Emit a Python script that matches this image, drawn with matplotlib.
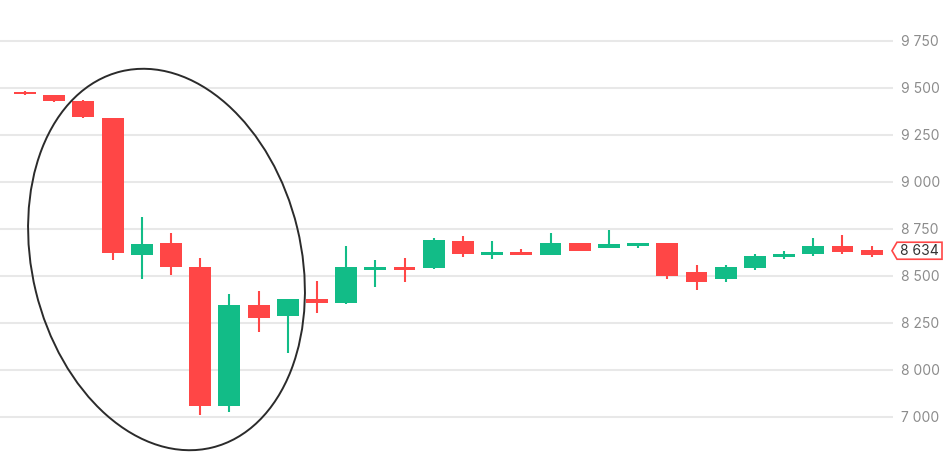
import matplotlib
matplotlib.use("Agg")
import matplotlib.pyplot as plt
from matplotlib.patches import Ellipse, Polygon
from matplotlib.transforms import IdentityTransform
import numpy as np

# OHLC values
opens  = [9480, 9463, 9432, 9339, 8610, 8676, 8548, 7810, 8344, 8285,
          8377, 8355, 8532, 8548, 8541, 8684, 8610, 8626, 8610, 8676,
          8649, 8661, 8676, 8523, 8482, 8542, 8601, 8617, 8659, 8638]
closes = [9470, 9432, 9347, 8620, 8668, 8550, 7810, 8344, 8278, 8377,
          8356, 8548, 8548, 8532, 8693, 8618, 8626, 8610, 8676, 8635,
          8668, 8674, 8498, 8466, 8548, 8608, 8617, 8659, 8626, 8612]
highs  = [9482, 9465, 9435, 9340, 8812, 8727, 8598, 8403, 8422, 8378,
          8473, 8659, 8583, 8598, 8702, 8711, 8684, 8642, 8727, 8677,
          8744, 8675, 8677, 8558, 8558, 8618, 8635, 8702, 8718, 8659]
lows   = [9463, 9424, 9340, 8585, 8482, 8507, 7760, 7776, 8200, 8090,
          8301, 8353, 8440, 8466, 8538, 8601, 8592, 8610, 8609, 8634,
          8647, 8650, 8482, 8424, 8466, 8532, 8590, 8608, 8618, 8603]

tick_values = [9750, 9500, 9250, 9000, 8750, 8500, 8250, 8000, 7750]
tick_labels = ["9 750", "9 500", "9 250", "9 000", "8 750", "8 500", "8 250", "8 000", "7 000"]
last_price = 8634
last_label = "8 634"

RED = "#ff4646"
GREEN = "#12bc87"

W, H = 945, 462
fig = plt.figure(figsize=(W / 100, H / 100), dpi=100)
ax = fig.add_axes([0, 0, 893 / W, 1])

x = np.arange(len(opens))
o = np.array(opens)
c = np.array(closes)
colors = [GREEN if cc >= oo else RED for oo, cc in zip(o, c)]

ax.vlines(x, lows, highs, colors=colors, linewidth=1.5, zorder=2)
ax.bar(x, np.abs(c - o), bottom=np.minimum(o, c), width=0.75,
       color=colors, zorder=3)

ax.set_xlim(-0.856, 29.73)
ax.set_ylim(7510, 9968)

ax.yaxis.tick_right()
ax.set_yticks(tick_values)
ax.set_yticklabels(tick_labels)
ax.tick_params(axis="y", length=0, pad=6, labelsize=10, labelcolor="#8c8c8c")
ax.set_xticks([])
for lab in ax.get_yticklabels():
    lab.set_family(["Inter", "DejaVu Sans"])
ax.grid(axis="y", color="#e8e8e8", linewidth=1.5, zorder=0)
for s in ax.spines.values():
    s.set_visible(False)

# ellipse annotation (pixel coords)
ell = Ellipse((166.5, H - 259.5), width=269, height=387, angle=13.6,
              fill=False, edgecolor="#2b2b2b", linewidth=1.4,
              transform=IdentityTransform(), zorder=5)
fig.patches.append(ell)

# last price marker
yp = ax.transData.transform((0, last_price))[1]
x0, x1, h = 892, 942, 8.5
poly = Polygon([(x0, yp), (x0 + 5, yp + h), (x1, yp + h), (x1, yp - h), (x0 + 5, yp - h)],
               closed=True, facecolor="white", edgecolor=RED, linewidth=1.2,
               transform=IdentityTransform(), zorder=6)
fig.patches.append(poly)
fig.text((x0 + 5 + x1) / 2 / W, yp / H, last_label, ha="center", va="center",
         fontsize=10, color="#333333", family=["Inter", "DejaVu Sans"], zorder=7)

fig.savefig("out.png", dpi=100)
